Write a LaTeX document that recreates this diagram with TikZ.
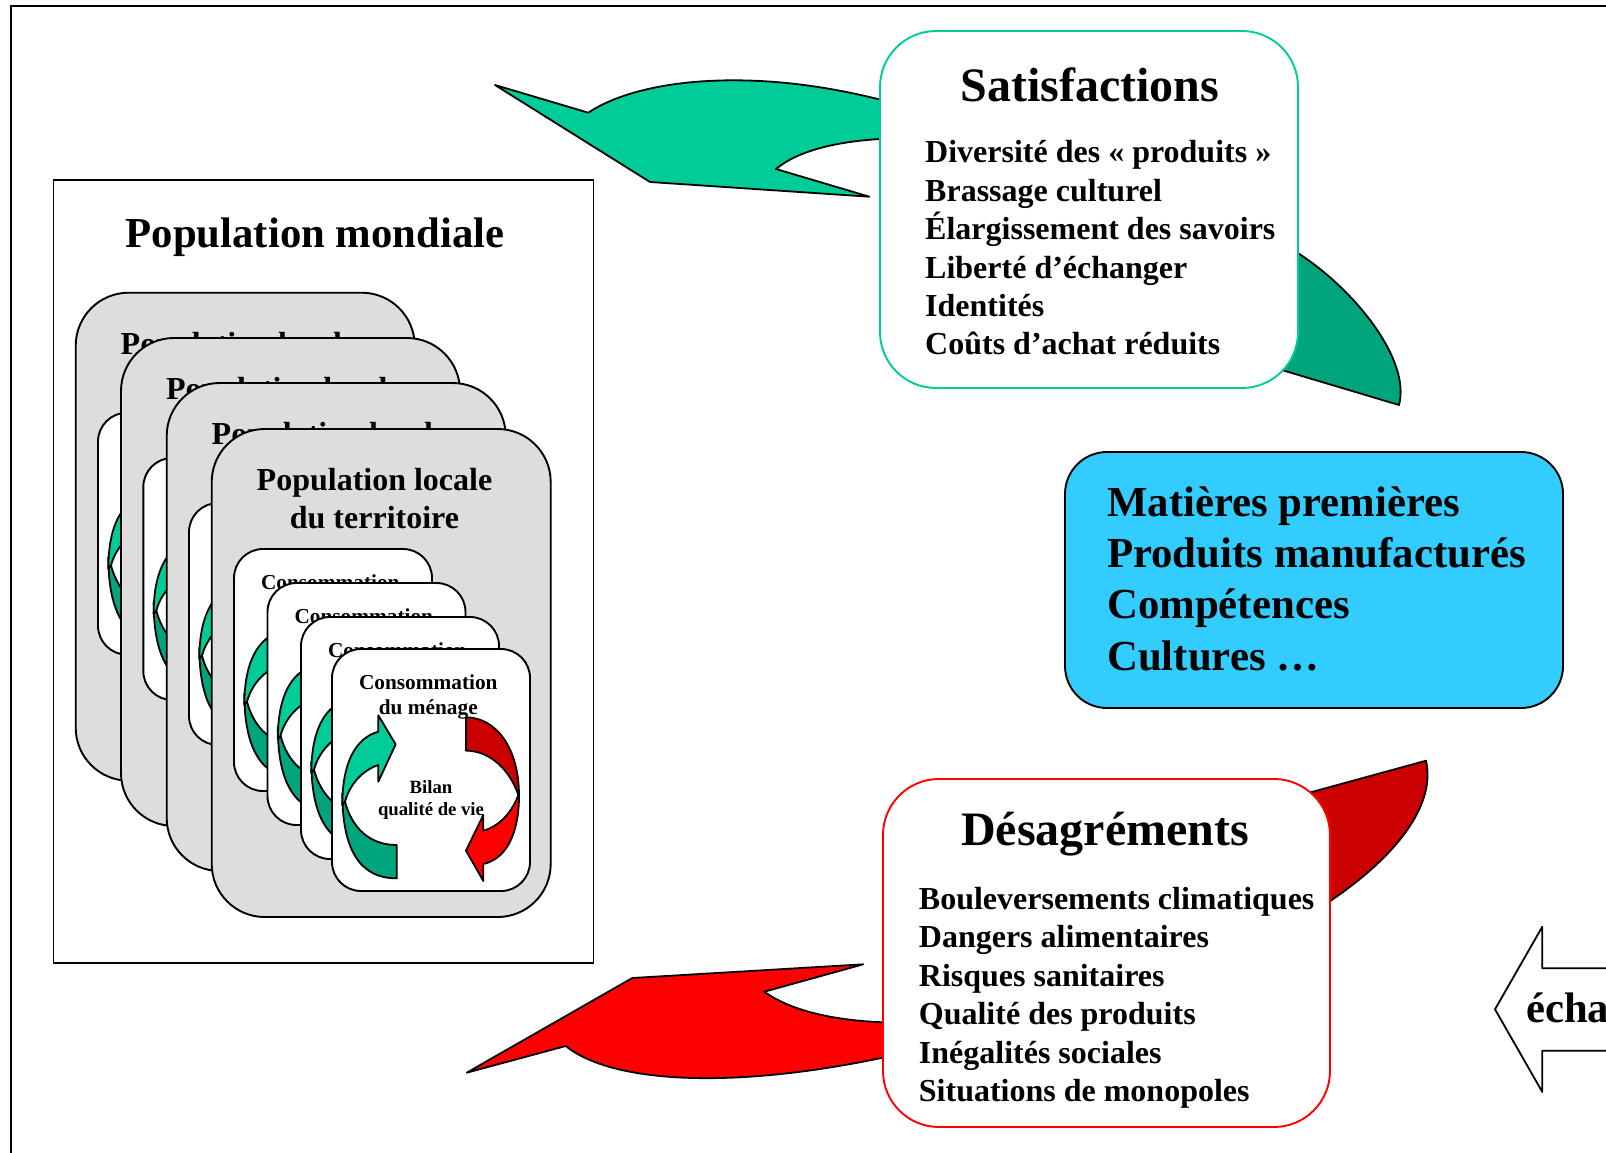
\documentclass[tikz,border=0pt]{standalone}
\usepackage{fontspec}
\setmainfont{Liberation Serif}
\definecolor{lgreen}{HTML}{00CC99}
\definecolor{dgreen}{HTML}{00A57D}
\definecolor{lred}{HTML}{FF0000}
\definecolor{dred}{HTML}{CC0000}
\definecolor{popgrey}{HTML}{DDDDDD}
\definecolor{skyblue}{HTML}{33CCFF}
\newcommand{\fs}[2]{\fontsize{#1}{#2}\selectfont\bfseries}
\tikzset{
  shapeline/.style={draw=black,line width=1.8pt,line join=round},
  rbox/.style={draw,line width=1.9pt,anchor=north west,inner sep=0pt,outer sep=0pt},
  popbox/.style={rbox,draw=black,fill=popgrey,minimum width=339pt,minimum height=488pt,rounded corners=53pt},
  consbox/.style={rbox,draw=black,fill=white,minimum width=198pt,minimum height=242pt,rounded corners=29pt},
  poptext/.style={inner sep=0pt,align=center,font=\fs{32}{38}},
  constext/.style={inner sep=0pt,align=center,font=\fs{21.3}{25.5}},
  biltext/.style={inner sep=0pt,align=center,font=\fs{18.7}{22}},
  listtext/.style={inner sep=0pt,align=left,anchor=west,font=\fs{32}{38.4}},
  titletext/.style={inner sep=0pt,anchor=base,font=\fs{48}{52}},
}
\newcommand{\consgroup}[3]{%
  \begin{scope}[shift={(#1,#2)}]
    \node[consbox] (cb#3) at (332,649) {};
    \node[constext] (ct#3) at (428.3,697) {Consommation\\du ménage};
    \begin{scope}[shift={(200,530)},x=0.33333pt,y=-0.33333pt]
      \path[shapeline,fill=dgreen] (590,945) .. controls (505,945) and (455,890) .. (435,815) -- (427,790) .. controls (427,960) and (480,1045) .. (590,1045) -- cycle;
      \path[shapeline,fill=lgreen] (427,825) .. controls (427,700) and (465,625) .. (535,605) -- (535,556) -- (587,643) -- (535,755) -- (535,705) .. controls (490,720) and (450,760) .. (435,815) -- cycle;
      \path[shapeline,fill=dred] (798,562) .. controls (885,562) and (958,650) .. (957,800) -- (955,795) .. controls (930,720) and (870,662) .. (798,662) -- cycle;
      \path[shapeline,fill=lred] (957,780) .. controls (960,900) and (925,985) .. (850,1002) -- (850,1053) -- (798,962) -- (850,855) -- (850,902) .. controls (895,890) and (935,850) .. (955,795) -- cycle;
    \end{scope}
    \node[biltext] (bt#3) at (431,800) {Bilan\\qualité de vie};
  \end{scope}}
\newcommand{\popgroup}[3]{%
  \begin{scope}[shift={(#1,#2)}]
    \node[popbox] (pb#3) at (211.7,429) {};
    \node[poptext] (pt#3) at (374.5,499) {Population locale\\du territoire};
    \consgroup{-98}{-100}{#3a}
    \consgroup{-64.5}{-66}{#3b}
    \consgroup{-31}{-32}{#3c}
    \consgroup{0}{0}{#3d}
  \end{scope}}
\begin{document}
\begin{tikzpicture}[x=1pt,y=-1pt]
\useasboundingbox (0,0) rectangle (1606,1153);
\clip (0,0) rectangle (1606,1153);
\fill[white] (0,0) rectangle (1606,1153);
\draw[line width=1.9pt] (11.3,6) rectangle (1640,1190);
% world population
\node[rbox,draw=black,fill=white,minimum width=540pt,minimum height=783pt] (world) at (53.5,180) {};
\node[titletext,font=\fs{42.7}{46}] (worldt) at (315,247) {Population mondiale};
\popgroup{-136}{-136.3}{a}
\popgroup{-90.7}{-91}{b}
\popgroup{-45}{-46}{c}
\popgroup{0}{0}{d}
% big arrows
\path[shapeline,fill=lgreen] (495,85) -- (588.3,112.7) .. controls (640,78) and (760,65) .. (900,105) -- (900,139) -- (880,139) .. controls (830,142) and (795,153) .. (776,169) -- (869.3,196.7) -- (650,182) -- cycle;
\path[shapeline,fill=dgreen] (1270,240) -- (1298.3,253.3) .. controls (1355,290) and (1411,360) .. (1399,405) -- (1281.7,370) -- cycle;
\path[shapeline,fill=lred] (466.7,1072.7) -- (565.7,1046) .. controls (610,1082) and (730,1092) .. (900,1054) -- (900,1022) -- (882.3,1022.3) .. controls (830,1020) and (790,1010) .. (764.3,991.7) -- (863.3,964.3) -- (632.3,978) -- cycle;
\path[shapeline,fill=dred] (1300,795) -- (1310.7,792.3) -- (1426,760.7) .. controls (1435,800) and (1405,850) .. (1330.7,900.7) -- (1300,915) -- cycle;
% boxes
\node[rbox,draw=lgreen,fill=white,minimum width=418pt,minimum height=357pt,rounded corners=56pt] (sat) at (880,31) {};
\node[titletext] (satt) at (1090,102) {Satisfactions};
\node[listtext] (satl) at (925,248) {Diversité des « produits »\\Brassage culturel\\Élargissement des savoirs\\Liberté d’échanger\\Identités\\Coûts d’achat réduits};
\node[rbox,draw=lred,fill=white,minimum width=447pt,minimum height=348pt,rounded corners=56pt] (des) at (883,779) {};
\node[titletext] (dest) at (1105,845) {Désagréments};
\node[listtext,font=\fs{32}{38.5}] (desl) at (918.7,998) {Bouleversements climatiques\\Dangers alimentaires\\Risques sanitaires\\Qualité des produits\\Inégalités sociales\\Situations de monopoles};
\node[rbox,draw=black,fill=skyblue,minimum width=498pt,minimum height=256pt,rounded corners=42pt] (blue) at (1065,452) {};
\node[listtext,font=\fs{42.8}{51.3}] (bluet) at (1107,578.7) {Matières premières\\Produits manufacturés\\Compétences\\Cultures …};
% exchange arrow
\path[shapeline,fill=white] (1640,968.3) -- (1542.3,968.3) -- (1542.3,926.7) -- (1495,1009.3) -- (1542.3,1092) -- (1542.3,1050.7) -- (1640,1050.7);
\node[inner sep=0pt,anchor=base west,font=\fs{42.7}{46}] (ech) at (1526,1022) {écha};
\end{tikzpicture}
\end{document}
